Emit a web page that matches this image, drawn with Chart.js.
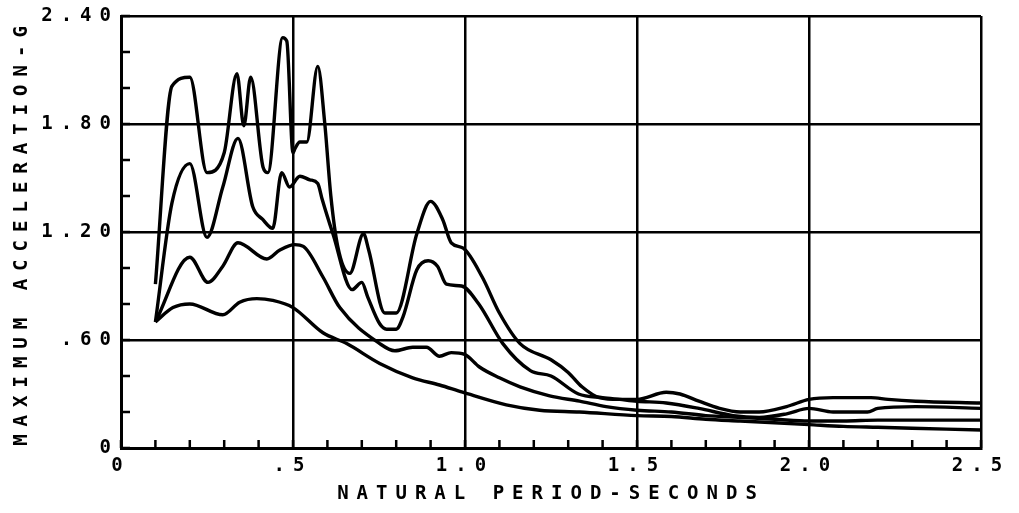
<!DOCTYPE html>
<html>
<head>
<meta charset="utf-8">
<script src="https://cdn.jsdelivr.net/npm/chart.js@4"></script>
<style>
  html, body { margin: 0; padding: 0; background: #fff; }
</style>
</head>
<body>
<canvas id="myChart" width="1019" height="513"></canvas>
<script>
// response spectra, four damping curves (top to bottom)
var periodA = [0.10, 0.148, 0.20, 0.25, 0.30, 0.337, 0.357, 0.377, 0.413, 0.427, 0.47, 0.482, 0.50, 0.505, 0.52, 0.54, 0.572, 0.592, 0.61, 0.63, 0.665, 0.705, 0.72, 0.767, 0.80, 0.86, 0.90, 0.935, 0.96, 0.995, 1.05, 1.10, 1.16, 1.25, 1.30, 1.34, 1.39, 1.45, 1.50, 1.585, 1.625, 1.68, 1.74, 1.80, 1.855, 1.935, 2.00, 2.07, 2.18, 2.23, 2.31, 2.50];
var accelA  = [0.91, 2.01, 2.06, 1.53, 1.64, 2.08, 1.79, 2.06, 1.56, 1.53, 2.28, 2.26, 1.64, 1.66, 1.70, 1.70, 2.12, 1.81, 1.40, 1.12, 0.97, 1.19, 1.10, 0.75, 0.75, 1.19, 1.37, 1.27, 1.14, 1.11, 0.95, 0.75, 0.58, 0.49, 0.42, 0.34, 0.28, 0.27, 0.27, 0.31, 0.30, 0.26, 0.22, 0.20, 0.20, 0.23, 0.27, 0.28, 0.28, 0.27, 0.26, 0.25];

var periodB = [0.10, 0.148, 0.20, 0.25, 0.296, 0.34, 0.383, 0.412, 0.441, 0.467, 0.49, 0.52, 0.549, 0.572, 0.585, 0.616, 0.672, 0.70, 0.717, 0.752, 0.772, 0.80, 0.82, 0.86, 0.893, 0.92, 0.946, 0.99, 1.04, 1.11, 1.19, 1.25, 1.33, 1.40, 1.45, 1.50, 1.585, 1.68, 1.78, 1.855, 1.935, 2.00, 2.07, 2.17, 2.20, 2.31, 2.50];
var accelB  = [0.70, 1.36, 1.58, 1.17, 1.45, 1.72, 1.34, 1.27, 1.22, 1.53, 1.45, 1.51, 1.49, 1.47, 1.38, 1.19, 0.88, 0.92, 0.84, 0.69, 0.66, 0.66, 0.73, 0.99, 1.04, 1.01, 0.91, 0.90, 0.80, 0.58, 0.43, 0.40, 0.30, 0.28, 0.27, 0.26, 0.25, 0.22, 0.18, 0.17, 0.19, 0.22, 0.20, 0.20, 0.22, 0.23, 0.22];

var periodC = [0.10, 0.20, 0.253, 0.296, 0.34, 0.424, 0.462, 0.505, 0.53, 0.587, 0.636, 0.752, 0.796, 0.848, 0.888, 0.926, 0.96, 0.999, 1.042, 1.10, 1.16, 1.246, 1.333, 1.41, 1.50, 1.60, 1.70, 1.80, 1.90, 2.00, 2.10, 2.20, 2.30, 2.50];
var accelC  = [0.70, 1.06, 0.92, 1.01, 1.14, 1.05, 1.10, 1.13, 1.12, 0.95, 0.78, 0.58, 0.54, 0.56, 0.56, 0.51, 0.53, 0.52, 0.45, 0.39, 0.34, 0.29, 0.26, 0.23, 0.21, 0.20, 0.18, 0.17, 0.16, 0.15, 0.15, 0.155, 0.155, 0.155];

var periodD = [0.10, 0.151, 0.20, 0.296, 0.345, 0.395, 0.441, 0.50, 0.587, 0.656, 0.752, 0.848, 0.926, 0.993, 1.12, 1.217, 1.333, 1.50, 1.60, 1.70, 1.80, 1.90, 2.00, 2.10, 2.20, 2.30, 2.50];
var accelD  = [0.70, 0.78, 0.80, 0.74, 0.81, 0.83, 0.82, 0.78, 0.64, 0.58, 0.47, 0.39, 0.35, 0.31, 0.24, 0.21, 0.20, 0.18, 0.175, 0.16, 0.15, 0.14, 0.13, 0.12, 0.115, 0.11, 0.10];

var xTickText = ["0", ".5", "1.0", "1.5", "2.0", "2.5"];
var yTickText = ["0", ".60", "1.20", "1.80", "2.40"];

function pts(xs, ys) {
    return xs.map(function(x, i) { return { x: x, y: ys[i] }; });
}

function curve(xs, ys) {
    return {
        data: pts(xs, ys),
        showLine: true,
        borderColor: "#000",
        borderWidth: 3.4,
        pointRadius: 0,
        cubicInterpolationMode: "monotone"
    };
}

var txtFont = { family: "DejaVu Sans Mono", size: 19, weight: "bold" };

// plotter style lettering
var spacing = {
    id: "spacing",
    beforeDraw: function(chart) { chart.ctx.letterSpacing = "8px"; },
    afterDraw: function(chart) { chart.ctx.letterSpacing = "0px"; }
};

// short inward tick marks on left and bottom edges
var innerTicks = {
    id: "innerTicks",
    afterDatasetsDraw: function(chart) {
        var ctx = chart.ctx, area = chart.chartArea;
        var xs = chart.scales.x, ys = chart.scales.y;
        ctx.save();
        ctx.strokeStyle = "#000";
        ctx.lineWidth = 2.5;
        ctx.beginPath();
        ys.ticks.forEach(function(t) {
            var py = ys.getPixelForValue(t.value);
            ctx.moveTo(area.left, py);
            ctx.lineTo(area.left + 9, py);
        });
        xs.ticks.forEach(function(t) {
            var px = xs.getPixelForValue(t.value);
            ctx.moveTo(px, area.bottom);
            ctx.lineTo(px, area.bottom - 8);
        });
        ctx.stroke();
        ctx.restore();
    }
};

var ctx = document.getElementById("myChart");

var myChart = new Chart(ctx, {
    type: "scatter",
    data: {
        datasets: [
            curve(periodA, accelA),
            curve(periodB, accelB),
            curve(periodC, accelC),
            curve(periodD, accelD)
        ]
    },
    options: {
        responsive: false,
        animation: false,
        layout: { padding: { top: 16, right: 38, left: 0, bottom: 0 } },
        plugins: {
            legend: { display: false },
            tooltip: { enabled: false }
        },
        scales: {
            x: {
                type: "linear",
                min: 0,
                max: 2.5,
                afterFit: function(s) { s.height = 65; },
                ticks: {
                    stepSize: 0.1,
                    autoSkip: false,
                    maxRotation: 0,
                    padding: 7,
                    color: "#000",
                    font: txtFont,
                    callback: function(v) {
                        var k = Math.round(v * 10);
                        return k % 5 === 0 ? xTickText[k / 5] : "";
                    }
                },
                grid: {
                    drawTicks: false,
                    lineWidth: 2.5,
                    color: function(c) {
                        if (!c.tick) return "rgba(0,0,0,0)";
                        return Math.round(c.tick.value * 10) % 5 === 0 ? "#000" : "rgba(0,0,0,0)";
                    }
                },
                border: { color: "#000", width: 3 },
                title: {
                    display: true,
                    text: "NATURAL PERIOD-SECONDS",
                    color: "#000",
                    font: txtFont,
                    padding: { top: 0, bottom: 8 }
                }
            },
            y: {
                min: 0,
                max: 2.4,
                afterFit: function(s) { s.width = 121; },
                ticks: {
                    stepSize: 0.2,
                    autoSkip: false,
                    padding: 2,
                    color: "#000",
                    font: txtFont,
                    callback: function(v) {
                        var k = Math.round(v * 10);
                        return k % 6 === 0 ? yTickText[k / 6] : "";
                    }
                },
                grid: {
                    drawTicks: false,
                    lineWidth: 2.5,
                    color: function(c) {
                        if (!c.tick) return "rgba(0,0,0,0)";
                        return Math.round(c.tick.value * 10) % 6 === 0 ? "#000" : "rgba(0,0,0,0)";
                    }
                },
                border: { color: "#000", width: 3 },
                title: {
                    display: true,
                    text: "MAXIMUM ACCELERATION-G",
                    color: "#000",
                    font: txtFont,
                    padding: { top: 11, bottom: 0 }
                }
            }
        }
    },
    plugins: [spacing, innerTicks]
});
</script>
</body>
</html>
